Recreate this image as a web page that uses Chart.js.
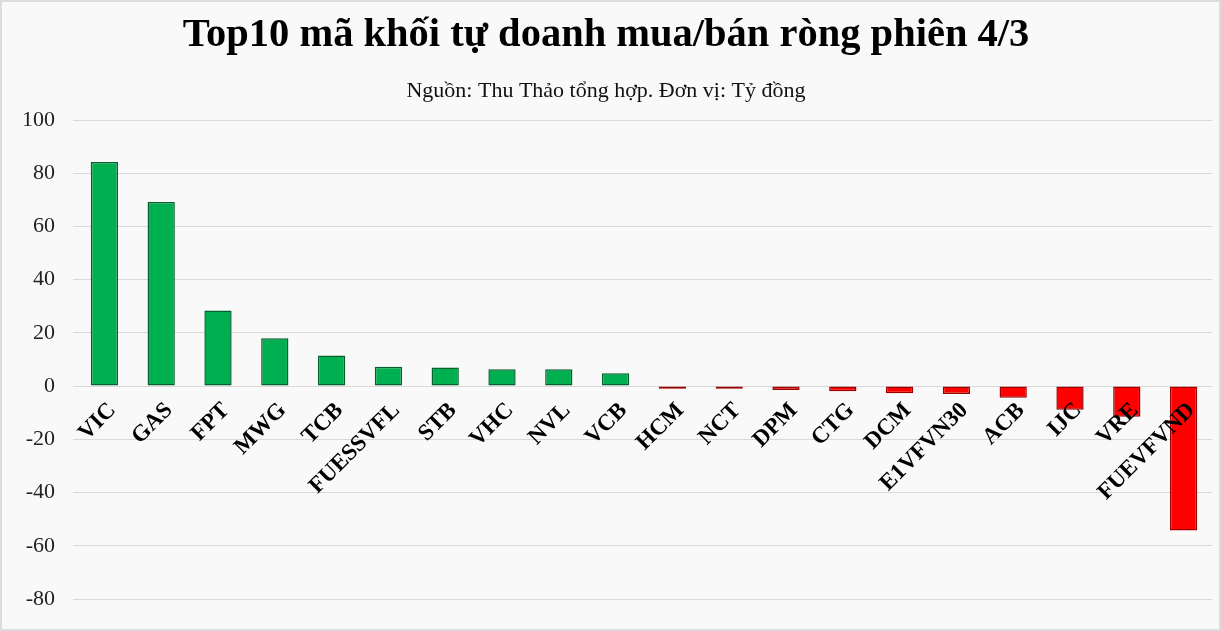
<!DOCTYPE html>
<html>
<head>
<meta charset="utf-8">
<script src="https://cdn.jsdelivr.net/npm/chart.js@4"></script>
<style>
    html, body { margin: 0; padding: 0; background: #f9f9f9; }
    #wrap { width: 1221px; height: 631px; }
</style>
</head>
<body>
<div id="wrap"><canvas id="chart" width="1221" height="631"></canvas></div>
<script>
// Top10 proprietary trading net buy/sell - session 4/3

const titleText = 'Top10 mã khối tự doanh mua/bán ròng phiên 4/3';
const subtitleText = 'Nguồn: Thu Thảo tổng hợp. Đơn vị: Tỷ đồng';

const tickers = ['VIC', 'GAS', 'FPT', 'MWG', 'TCB', 'FUESSVFL', 'STB', 'VHC', 'NVL', 'VCB',
    'HCM', 'NCT', 'DPM', 'CTG', 'DCM', 'E1VFVN30', 'ACB', 'IJC', 'VRE', 'FUEVFVND'];
const netValues = [84.2, 69.2, 28.4, 18.0, 11.5, 7.3, 7.0, 6.3, 6.3, 4.8,
    -1.0, -1.0, -1.5, -1.9, -2.7, -3.0, -4.4, -8.9, -11.5, -54.3];
const yTicks = [100, 80, 60, 40, 20, 0, -20, -40, -60, -80];

const SERIF = '"Liberation Serif", "DejaVu Serif", serif';

// page background + thin frame
const frame = {
    id: 'frame',
    beforeDraw(chart) {
        const c = chart.ctx;
        c.save();
        c.fillStyle = '#f9f9f9';
        c.fillRect(0, 0, chart.width, chart.height);
        c.strokeStyle = '#dcdcdc';
        c.lineWidth = 2;
        c.strokeRect(1, 1, chart.width - 2, chart.height - 2);
        c.restore();
    }
};

new Chart(document.getElementById('chart'), {
    type: 'bar',
    data: {
        labels: tickers,
        datasets: [{
            data: netValues,
            backgroundColor: ctx => ctx.raw >= 0 ? '#00b050' : '#ff0000',
            borderColor: ctx => ctx.raw >= 0 ? '#05602e' : '#9a0000',
            borderWidth: 1.5,
            borderSkipped: false,
            barPercentage: 0.48,
            categoryPercentage: 1
        }]
    },
    options: {
        responsive: false,
        animation: false,
        layout: { padding: { left: 0, right: 9, top: 0, bottom: 32 } },
        plugins: {
            legend: { display: false },
            tooltip: { enabled: false },
            title: {
                display: true,
                text: titleText,
                color: '#000',
                font: { family: SERIF, size: 40.5, weight: 'bold' },
                padding: { top: 11, bottom: 18 }
            },
            subtitle: {
                display: true,
                text: subtitleText,
                color: '#111',
                font: { family: SERIF, size: 22 },
                padding: { top: 0, bottom: 16 }
            }
        },
        scales: {
            x: {
                position: { y: 0 },
                grid: { display: false },
                border: { display: false },
                ticks: {
                    z: 1, // labels sit on top of the bars
                    color: '#000',
                    font: { family: SERIF, size: 23, weight: 'bold' },
                    minRotation: 45,
                    maxRotation: 45,
                    autoSkip: false,
                    labelOffset: 8,
                    padding: 3
                }
            },
            y: {
                min: -80,
                max: 100,
                afterFit(scale) { scale.width = 76; },
                afterBuildTicks(scale) { scale.ticks = yTicks.map(v => ({ value: v })); },
                grid: { color: '#d9d9d9', lineWidth: 1, tickLength: 3 },
                border: { display: false },
                ticks: {
                    color: '#222',
                    font: { family: SERIF, size: 22 },
                    padding: 18
                }
            }
        }
    },
    plugins: [frame]
});
</script>
</body>
</html>
